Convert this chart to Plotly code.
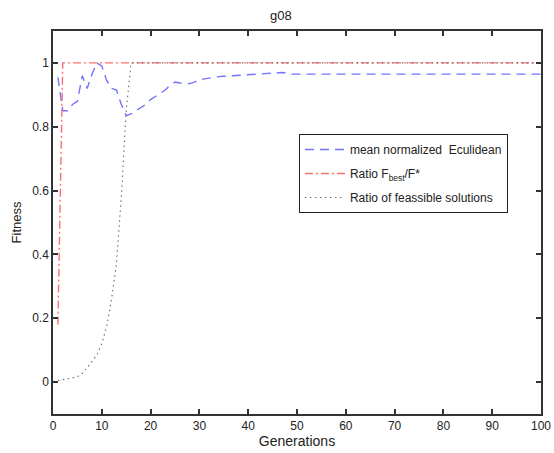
import plotly.graph_objects as go

generations = list(range(1, 101))

mean_euclid_head = [0.955, 0.85, 0.85, 0.87, 0.88, 0.96, 0.92, 0.965, 1.0, 0.99,
                    0.945, 0.92, 0.915, 0.87, 0.835, 0.84, 0.85, 0.86, 0.87, 0.885,
                    0.895, 0.905, 0.915, 0.93, 0.94, 0.937, 0.935, 0.935, 0.94, 0.947,
                    0.95, 0.953, 0.955, 0.957, 0.958, 0.959, 0.96, 0.96, 0.961, 0.962,
                    0.963, 0.964, 0.965, 0.966, 0.968, 0.97, 0.97, 0.968]
mean_euclid = mean_euclid_head + [0.965] * (100 - len(mean_euclid_head))

ratio_best_head = [0.18]
ratio_best = ratio_best_head + [1.0] * (100 - len(ratio_best_head))

feasible_head = [0.005, 0.007, 0.01, 0.013, 0.017, 0.028, 0.045, 0.065, 0.085, 0.12,
                 0.175, 0.26, 0.37, 0.58, 0.85]
feasible = feasible_head + [1.0] * (100 - len(feasible_head))

x_ticks = [0, 10, 20, 30, 40, 50, 60, 70, 80, 90, 100]
y_ticks = [0, 0.2, 0.4, 0.6, 0.8, 1]
y_tick_text = ["0", "0.2", "0.4", "0.6", "0.8", "1"]

font = "Liberation Sans, Arial, sans-serif"

fig = go.Figure()
fig.add_trace(go.Scatter(x=generations, y=mean_euclid, mode="lines",
                         name="mean normalized  Eculidean", legendgroup="a",
                         line=dict(color="rgb(115,115,255)", width=1.4, dash="9px,6px")))
fig.add_trace(go.Scatter(x=generations, y=ratio_best, mode="lines",
                         name="Ratio F<sub>best</sub>/F*", legendgroup="b",
                         line=dict(color="rgb(255,110,110)", width=1.4,
                                   dash="8px,3px,2px,3px")))
fig.add_trace(go.Scatter(x=generations, y=feasible, mode="lines",
                         name="Ratio of feassible solutions", legendgroup="c",
                         line=dict(color="rgb(110,110,110)", width=1.1, dash="1.5px,3.5px")))

axis_common = dict(showgrid=False, zeroline=False, showline=True, mirror="ticks",
                   linecolor="#333333", linewidth=1.5, ticks="inside", ticklen=5,
                   tickwidth=1.5, tickcolor="#333333", automargin=False,
                   tickfont=dict(family=font, size=12, color="#222222"))

fig.update_layout(
    width=554, height=453,
    margin=dict(l=53, r=13, t=31, b=39),
    paper_bgcolor="white", plot_bgcolor="white",
    title=dict(text="g08", x=0.507, xanchor="center", y=0.966, yanchor="middle",
               font=dict(family=font, size=13, color="#222222")),
    xaxis=dict(range=[0, 100], tickvals=x_ticks,
               title=dict(text="Generations", standoff=2,
                          font=dict(family=font, size=14, color="#222222")),
               **axis_common),
    yaxis=dict(range=[-0.1, 1.1], tickvals=y_ticks, ticktext=y_tick_text,
               title=dict(text="Fitness", standoff=8,
                          font=dict(family=font, size=13, color="#222222")),
               **axis_common),
    legend=dict(x=0.504, y=0.731, xanchor="left", yanchor="top",
                bgcolor="white", bordercolor="#222222", borderwidth=1,
                font=dict(family=font, size=12, color="#222222"),
                tracegroupgap=5, itemwidth=40),
    showlegend=True,
)

fig.write_html("out.html")
